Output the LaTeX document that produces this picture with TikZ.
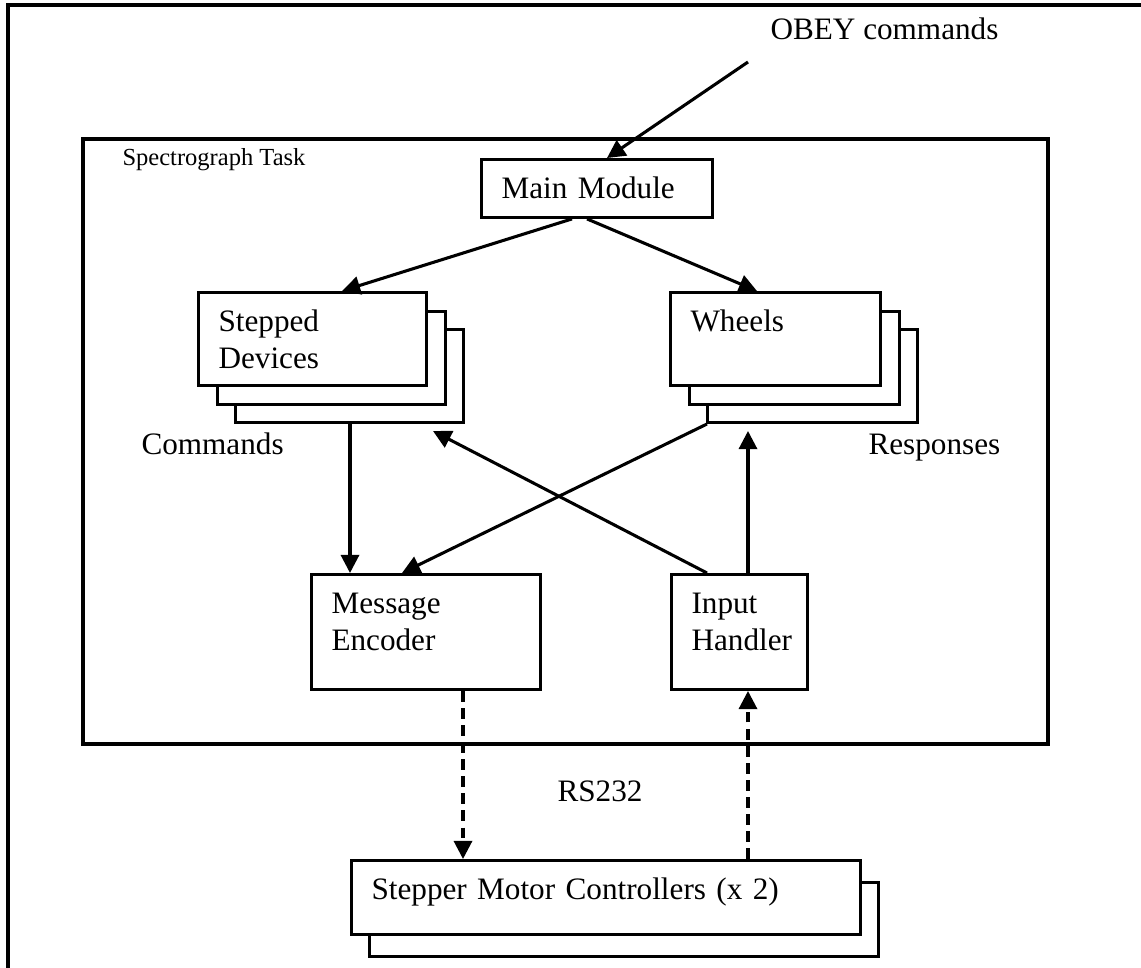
\documentclass[tikz,border=0pt]{standalone}
\usepackage{fontspec}
\setmainfont{Liberation Serif}
\usepackage{tikz}
\tikzset{
    unit/.style={rectangle,draw=black,fill=white,line width=1.15pt,anchor=north west,align=left,inner xsep=7.5pt,inner ysep=0pt,text height=14.6pt,font=\fontsize{11.7}{13.9}\selectfont},
    stack/.style={unit,
        copy shadow={shadow xshift=14pt,shadow yshift=-14pt,draw=black,fill=white,line width=1.15pt},
        copy shadow={shadow xshift=7.1pt,shadow yshift=-7.1pt,draw=black,fill=white,line width=1.15pt}},
    pair/.style={unit,copy shadow={shadow xshift=6.75pt,shadow yshift=-8.25pt,draw=black,fill=white,line width=1.15pt}},
    caption/.style={anchor=base west,inner sep=0pt,font=\fontsize{11.7}{14}\selectfont},
    link/.style={->,line width=1.15pt},
    serial/.style={link,dash pattern=on 4.1pt off 2.3pt},
    frame/.style={line width=1.15pt},
}
\usetikzlibrary{arrows.meta,calc,shadows}

\begin{document}
\begin{tikzpicture}[x=0.375pt,y=-0.375pt,>={Triangle[length=6.8pt,width=6.8pt]}]
\useasboundingbox (0,0) rectangle (1141,968);
\draw[frame] (8,980) |- (1150,5);
\draw[frame] (83,139) rectangle (1048,744);
\node[caption,font=\fontsize{9.2}{11}\selectfont] (task) at (122,166) {Spectrograph Task};

\node[unit,text width=71.6pt,text depth=7.1pt] (mm) at (480,158) {Main Module};
\node[stack,text width=70.5pt,text depth=20.25pt] (sd) at (197,291) {Stepped\\Devices};
\node[stack,text width=63.75pt,text depth=20.25pt] (wh) at (669,291) {Wheels};
\node[unit,text width=70.9pt,text depth=28.5pt] (me) at (310,573) {Message\\Encoder};
\node[unit,text width=36pt,text depth=28.5pt] (ih) at (670,573) {Input\\Handler};
\node[pair,text width=175.9pt,text depth=13.1pt] (smc) at (350,859) {Stepper Motor Controllers (x 2)};

\node[caption] (obey) at (770,40) {OBEY commands};
\node[caption] (cmds) at (141,455) {Commands};
\node[caption] (resp) at (868,455) {Responses};
\node[caption] (rs) at (557,802) {RS232};
\coordinate (feed) at (748,62);

\draw[link] (feed) -- ($(mm.north west)+(127,0)$);
\draw[link] ($(mm.south)+(-25,0)$) -- ($(sd.north west)+(145,0)$);
\draw[link] ($(mm.south)+(-10,0)$) -- ($(wh.north west)+(88,0)$);
\draw[link] ($(sd.south west)+(153,37)$) -- ($(me.north west)+(40,0)$);
\draw[link] ($(wh.south west)+(38,37)$) -- ($(me.north west)+(92,0)$);
\draw[link] ($(ih.north west)+(37,0)$) -- ($(sd.south west)+(236,44)$);
\draw[link] ($(ih.north west)+(78,0)$) -- ($(wh.south west)+(79,44)$);
\draw[serial] ($(me.south west)+(153,0)$) -- ($(smc.north west)+(113,0)$);
\draw[serial] ($(smc.north west)+(398,0)$) -- ($(ih.south west)+(78,0)$);
\end{tikzpicture}
\end{document}
